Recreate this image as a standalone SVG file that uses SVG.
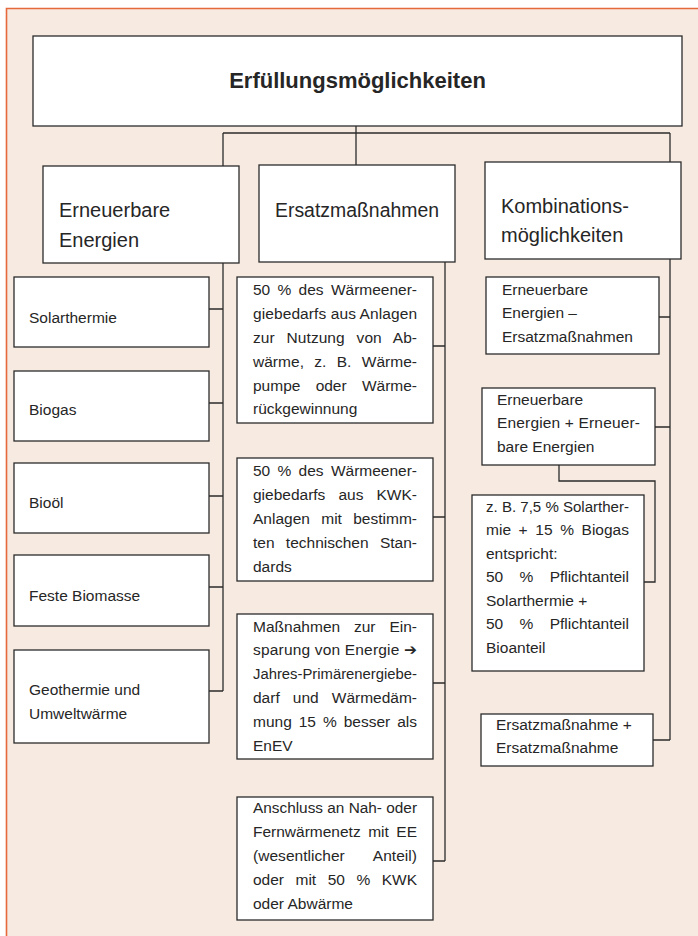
<svg xmlns="http://www.w3.org/2000/svg" width="698" height="936" viewBox="0 0 698 936">
<style>
.box{fill:#ffffff;stroke:#2b2b2b;stroke-width:1.3}
.ln{fill:none;stroke:#2b2b2b;stroke-width:1.3}
text{font-family:"Liberation Sans",Arial,"DejaVu Sans",sans-serif;fill:#262626}
.t{font-size:15.5px}
.h{font-size:20px}
.title{font-size:22px;font-weight:bold}
</style>
<rect x="0" y="0" width="698" height="936" fill="#ffffff"/>
<rect x="6.5" y="8.5" width="692" height="928" fill="#f7eae1"/>
<path d="M6.5,936 V8.5 H698" fill="none" stroke="#e5693b" stroke-width="1.6"/>
<g id="connectors">
<path class="ln" d="M356,126 V165"/>
<path class="ln" d="M223,133 H670"/>
<path class="ln" d="M223,133 V691"/>
<path class="ln" d="M209,309 H223 M209,403 H223 M209,496 H223 M209,587 H223 M209,691 H223"/>
<path class="ln" d="M445,262 V861"/>
<path class="ln" d="M433,346 H445 M433,517 H445 M433,683 H445 M433,861 H445"/>
<path class="ln" d="M670,133 V740"/>
<path class="ln" d="M659,317 H670 M655,427 H670 M653,740 H670"/>
<path class="ln" d="M559,465 V481 H655 V582 H644"/>
</g>
<g id="root">
<rect class="box" x="33" y="36" width="649" height="90"/>
<text class="title" x="357.5" y="88" text-anchor="middle">Erfüllungsmöglichkeiten</text>
</g>
<g id="erneuerbare">
<rect class="box" x="43" y="166" width="196" height="97"/>
<text class="h" x="59" y="217">Erneuerbare</text>
<text class="h" x="59" y="247">Energien</text>
</g>
<g id="ersatz">
<rect class="box" x="259" y="165" width="196" height="97"/>
<text class="h" x="275" y="217" textLength="164" lengthAdjust="spacingAndGlyphs">Ersatzmaßnahmen</text>
</g>
<g id="kombi">
<rect class="box" x="485" y="162" width="196" height="97"/>
<text class="h" x="501" y="213">Kombinations-</text>
<text class="h" x="501" y="242">möglichkeiten</text>
</g>
<g id="solarthermie">
<rect class="box" x="14" y="277" width="195" height="70"/>
<text class="t" x="29" y="323">Solarthermie</text>
</g>
<g id="biogas">
<rect class="box" x="14" y="371" width="195" height="70"/>
<text class="t" x="29" y="415">Biogas</text>
</g>
<g id="biooel">
<rect class="box" x="14" y="463" width="195" height="70"/>
<text class="t" x="29" y="508">Bioöl</text>
</g>
<g id="biomasse">
<rect class="box" x="14" y="555" width="195" height="71"/>
<text class="t" x="29" y="601">Feste Biomasse</text>
</g>
<g id="geothermie">
<rect class="box" x="14" y="650" width="195" height="93"/>
<text class="t" x="29" y="695">Geothermie und</text>
<text class="t" x="29" y="719">Umweltwärme</text>
</g>
<g id="m1">
<rect class="box" x="237" y="277" width="196" height="146"/>
<text class="t" x="253" y="295" textLength="164" lengthAdjust="spacing" word-spacing="3">50 % des Wärmeener-</text>
<text class="t" x="253" y="319" textLength="164" lengthAdjust="spacing">giebedarfs aus Anlagen</text>
<text class="t" x="253" y="343" textLength="164" lengthAdjust="spacing" word-spacing="7.5">zur Nutzung von Ab-</text>
<text class="t" x="253" y="367" textLength="164" lengthAdjust="spacing" word-spacing="6">wärme, z. B. Wärme-</text>
<text class="t" x="253" y="391" textLength="164" lengthAdjust="spacing" word-spacing="11">pumpe oder Wärme-</text>
<text class="t" x="253" y="414">rückgewinnung</text>
</g>
<g id="m2">
<rect class="box" x="237" y="458" width="196" height="123"/>
<text class="t" x="253" y="476" textLength="164" lengthAdjust="spacing" word-spacing="3">50 % des Wärmeener-</text>
<text class="t" x="253" y="500" textLength="164" lengthAdjust="spacing" word-spacing="8.8">giebedarfs aus KWK-</text>
<text class="t" x="253" y="524" textLength="164" lengthAdjust="spacing" word-spacing="7">Anlagen mit bestimm-</text>
<text class="t" x="253" y="548" textLength="164" lengthAdjust="spacing" word-spacing="7">ten technischen Stan-</text>
<text class="t" x="253" y="572">dards</text>
</g>
<g id="m3">
<rect class="box" x="237" y="614" width="196" height="145"/>
<text class="t" x="253" y="632" textLength="164" lengthAdjust="spacing" word-spacing="9.5">Maßnahmen zur Ein-</text>
<text class="t" x="253" y="655" textLength="164" lengthAdjust="spacing">sparung von Energie ➔</text>
<text class="t" x="253" y="679" textLength="164" lengthAdjust="spacingAndGlyphs">Jahres-Primärenergiebe-</text>
<text class="t" x="253" y="703" textLength="164" lengthAdjust="spacing" word-spacing="8.8">darf und Wärmedäm-</text>
<text class="t" x="253" y="727" textLength="164" lengthAdjust="spacing" word-spacing="2.7">mung 15 % besser als</text>
<text class="t" x="253" y="751">EnEV</text>
</g>
<g id="m4">
<rect class="box" x="237" y="797" width="196" height="123"/>
<text class="t" x="253" y="813" textLength="164" lengthAdjust="spacingAndGlyphs">Anschluss an Nah- oder</text>
<text class="t" x="253" y="837" textLength="164" lengthAdjust="spacing" word-spacing="3.2">Fernwärmenetz mit EE</text>
<text class="t" x="253" y="861" textLength="164" lengthAdjust="spacing" word-spacing="24.5">(wesentlicher Anteil)</text>
<text class="t" x="253" y="885" textLength="164" lengthAdjust="spacing" word-spacing="7.2">oder mit 50 % KWK</text>
<text class="t" x="253" y="909">oder Abwärme</text>
</g>
<g id="r1">
<rect class="box" x="486" y="277" width="173" height="77"/>
<text class="t" x="502" y="295">Erneuerbare</text>
<text class="t" x="502" y="318">Energien –</text>
<text class="t" x="502" y="342">Ersatzmaßnahmen</text>
</g>
<g id="r2">
<rect class="box" x="482" y="388" width="173" height="77"/>
<text class="t" x="497" y="405">Erneuerbare</text>
<text class="t" x="497" y="428" textLength="143" lengthAdjust="spacing">Energien + Erneuer-</text>
<text class="t" x="497" y="452">bare Energien</text>
</g>
<g id="r3">
<rect class="box" x="472" y="495" width="172" height="176"/>
<text class="t" x="486" y="512" textLength="143" lengthAdjust="spacingAndGlyphs">z. B. 7,5 % Solarther-</text>
<text class="t" x="486" y="535" textLength="143" lengthAdjust="spacing" word-spacing="3.3">mie + 15 % Biogas</text>
<text class="t" x="486" y="559">entspricht:</text>
<text class="t" x="486" y="582" textLength="143" lengthAdjust="spacing" word-spacing="12">50 % Pflichtanteil</text>
<text class="t" x="486" y="606">Solarthermie +</text>
<text class="t" x="486" y="629" textLength="143" lengthAdjust="spacing" word-spacing="12">50 % Pflichtanteil</text>
<text class="t" x="486" y="653">Bioanteil</text>
</g>
<g id="r4">
<rect class="box" x="481" y="714" width="172" height="52"/>
<text class="t" x="496" y="730">Ersatzmaßnahme +</text>
<text class="t" x="496" y="753">Ersatzmaßnahme</text>
</g>
</svg>
